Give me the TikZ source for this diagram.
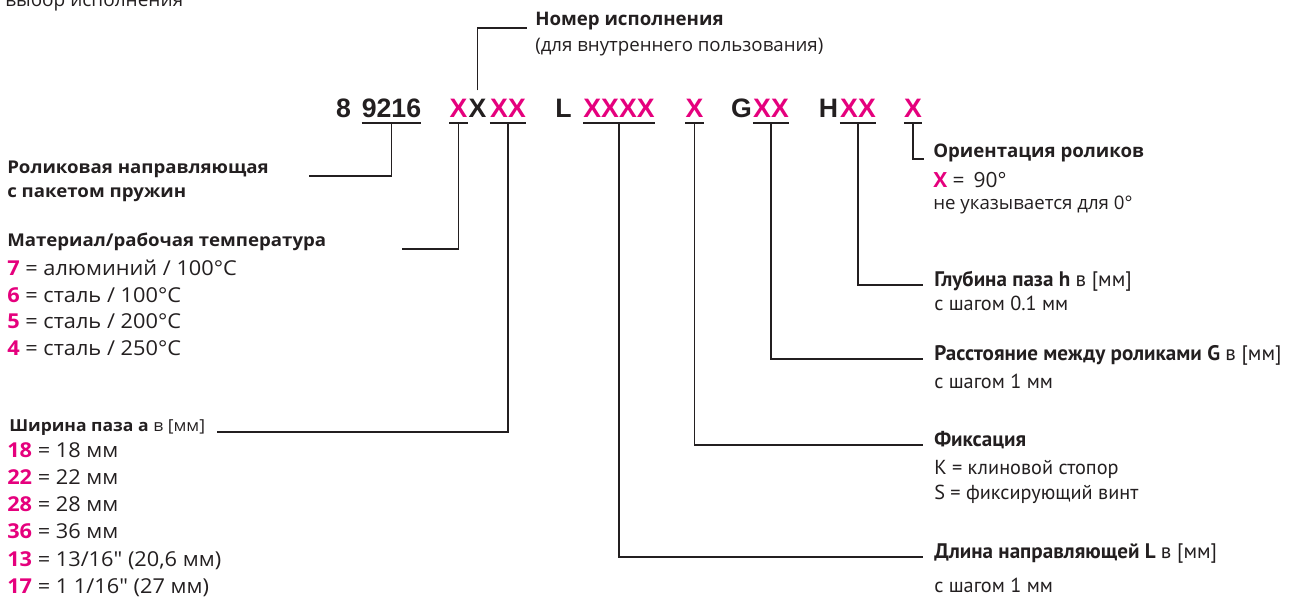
\documentclass[tikz,border=0pt]{standalone}
\usepackage{fontspec}
\setmainfont{Open Sans}[Ligatures=TeXOff]
\newfontfamily\wideFont{Open Sans}[FakeStretch=1.06, Ligatures=TeXOff]
\newfontfamily\condfont{PT Sans}
\newfontfamily\codefont{Liberation Sans}
\definecolor{ink}{HTML}{231F20}
\definecolor{accent}{HTML}{E5007D}
\newcommand\pk[1]{\textcolor{accent}{\textbf{#1}}}
\tikzset{
  lbl/.style={anchor=base west, inner sep=0pt, text=ink},
  head/.style={lbl, font=\wideFont\fontsize{13.2}{15}\selectfont\bfseries},
  val/.style={lbl, font=\wideFont\fontsize{15.4}{18}\selectfont},
  rhead/.style={lbl, font=\fontsize{14}{16}\selectfont\bfseries},
  rval/.style={lbl, font=\fontsize{14}{16}\selectfont},
  chead/.style={lbl, font=\condfont\fontsize{15.8}{18}\selectfont\bfseries},
  cval/.style={lbl, font=\condfont\fontsize{15.2}{18}\selectfont},
  code/.style={anchor=base, inner sep=0pt, text=ink, font=\codefont\bfseries\fontsize{20}{24}\selectfont},
  codepk/.style={code, text=accent},
  lead/.style={draw=ink, line width=0.9pt},
}
\begin{document}
\begin{tikzpicture}[x=0.75pt, y=-0.75pt]
\useasboundingbox (0,0) rectangle (1308,596);

% caption cut by the top edge
\node[lbl, font=\fontsize{14.3}{17}\selectfont] (cap) at (5,7) {выбор исполнения};

% order code
\node[code]   (t8)    at (343.5,117) {8};
\node[code]   (t9216) at (391.5,117) {9216};
\node[codepk] (tXa)   at (458.5,117) {X};
\node[code]   (tXb)   at (477.5,117) {X};
\node[codepk] (tXX)   at (508,117)   {XX};
\node[code]   (tL)    at (563.5,117) {L};
\node[codepk] (tXXXX) at (619,117)   {XXXX};
\node[codepk] (tXf)   at (694.5,117) {X};
\node[code]   (tG)    at (741.5,117) {G};
\node[codepk] (tGXX)  at (771,117)   {XX};
\node[code]   (tH)    at (828.5,117) {H};
\node[codepk] (tHXX)  at (858,117)   {XX};
\node[codepk] (tXo)   at (913,117)   {X};

% underlines
\foreach \n in {t9216,tXa,tXX,tXXXX,tXf,tGXX,tHXX,tXo}
  \draw[lead] (\n.west |- 0,123) -- (\n.east |- 0,123);

% top label
\node[rhead] (hNum) at (535,26) {Номер исполнения};
\node[rval]  (hNum2) at (535,51) {(для внутреннего пользования)};
\draw[lead] ([yshift=6pt]tXb.north) |- ([xshift=-6pt,yshift=-1.5pt]hNum.base west);

% left labels
\node[head] (hRol)  at (7,173) {Роликовая направляющая};
\node[head] (hRol2) at (7,197) {с пакетом пружин};
\coordinate (eRol) at (309,176);
\draw[lead] (t9216.center |- 0,123) |- (eRol);

\node[head] (hMat) at (7,246) {Материал/рабочая температура};
\node[val] (m7) at (7,275) {\pk{7} = алюминий / 100°C};
\node[val] (m6) at (7,302) {\pk{6} = сталь / 100°C};
\node[val] (m5) at (7,328) {\pk{5} = сталь / 200°C};
\node[val] (m4) at (7,355) {\pk{4} = сталь / 250°C};
\coordinate (eMat) at (402,249);
\draw[lead] (tXa.center |- 0,123) |- (eMat);

\node[head, font=\wideFont\fontsize{12.4}{15}\selectfont\bfseries] (hWid) at (9,431) {Ширина паза а \mdseries в [мм]};
\node[val] (w1) at (7,457) {\pk{18} = 18 мм};
\node[val] (w2) at (7,484) {\pk{22} = 22 мм};
\node[val] (w3) at (7,511) {\pk{28} = 28 мм};
\node[val] (w4) at (7,538) {\pk{36} = 36 мм};
\node[val] (w5) at (7,566) {\pk{13} = 13/16" (20,6 мм)};
\node[val] (w6) at (7,593) {\pk{17} = 1 1/16" (27 мм)};
\coordinate (eWid) at (217,432);
\draw[lead] (tXX.center |- 0,123) |- (eWid);

% right labels
\node[rhead] (hOr) at (933,157) {Ориентация роликов};
\node[lbl, font=\fontsize{15.7}{18}\selectfont] (o1) at (933,187) {\pk{X} =\, 90°};
\node[rval] (o2) at (933,209) {не указывается для 0°};
\draw[lead] (tXo.center |- 0,123) |- ([xshift=-6.75pt,yshift=-1.5pt]hOr.base west);

\node[chead] (hDep) at (934,286) {Глубина паза h \mdseries в [мм]};
\node[cval] (d1) at (934,310) {с шагом 0.1 мм};
\draw[lead] (tHXX.center |- 0,123) |- ([xshift=-8.25pt,yshift=0.75pt]hDep.base west);

\node[chead] (hDis) at (934,360) {Расстояние между роликами G \mdseries в [мм]};
\node[cval] (g1) at (934,388) {с шагом 1 мм};
\draw[lead] (tGXX.center |- 0,123) |- ([xshift=-8.25pt,yshift=0.75pt]hDis.base west);

\node[chead] (hFix) at (934,446) {Фиксация};
\node[cval] (f1) at (934,474) {K = клиновой стопор};
\node[cval] (f2) at (934,499) {S = фиксирующий винт};
\draw[lead] (tXf.center |- 0,123) |- ([xshift=-8.25pt,yshift=0.75pt]hFix.base west);

\node[chead] (hLen) at (934,558) {Длина направляющей L \mdseries в [мм]};
\node[cval] (l1) at (934,592) {с шагом 1 мм};
\draw[lead] (tXXXX.center |- 0,123) |- ([xshift=-8.25pt,yshift=0.75pt]hLen.base west);
\end{tikzpicture}
\end{document}
